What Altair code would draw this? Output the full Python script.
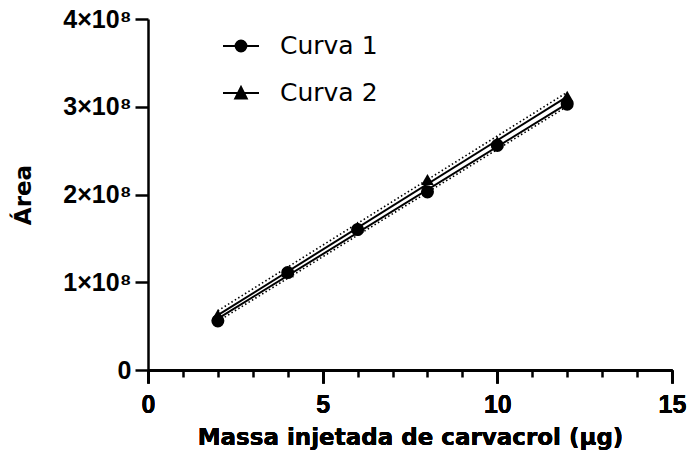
import altair as alt
import pandas as pd

# ---- data ----
mass = [2, 4, 6, 8, 10, 12]
area_c1 = [0.56e8, 1.11e8, 1.60e8, 2.03e8, 2.56e8, 3.03e8]
area_c2 = [0.63e8, 1.12e8, 1.63e8, 2.17e8, 2.60e8, 3.12e8]
series = ["Curva 1", "Curva 2"]

fit_x = [2, 12]
fit_c1 = [0.585e8, 3.035e8]
fit_c2 = [0.625e8, 3.115e8]
dot_upper = [0.675e8, 3.165e8]
dot_lower = [0.555e8, 3.005e8]

x_major = [0, 5, 10, 15]
x_minor = [1, 2, 3, 4, 6, 7, 8, 9, 11, 12, 13, 14]
y_ticks = [0, 1e8, 2e8, 3e8, 4e8]

# ---- tables ----
pts = pd.DataFrame({
    "mass": mass + mass,
    "area": area_c1 + area_c2,
    "series": [series[0]] * len(mass) + [series[1]] * len(mass),
})
fits = pd.DataFrame({
    "mass": fit_x * 4,
    "area": fit_c1 + fit_c2 + dot_upper + dot_lower,
    "kind": ["fit1"] * 2 + ["fit2"] * 2 + ["up"] * 2 + ["low"] * 2,
})

BOLD = "Liberation Sans"
xscale = alt.Scale(domain=[0, 15], nice=False, zero=True)
yscale = alt.Scale(domain=[0, 4e8], nice=False)

xaxis = alt.Axis(
    values=x_major, orient="bottom", format="d",
    tickSize=13, labelFlush=False,
    title="Massa injetada de carvacrol (µg)",
    labelFont=BOLD, labelFontSize=25, labelFontWeight="bold", labelPadding=9,
    titleFont="DejaVu Sans", titleFontSize=23, titleFontWeight="bold", titlePadding=9,
    grid=False,
)
xaxis_minor = alt.Axis(
    values=x_minor, orient="bottom", tickSize=7, labels=False, domain=False,
    title=None, grid=False,
)
yaxis = alt.Axis(
    values=y_ticks,
    labelExpr="datum.value == 0 ? '0' : format(datum.value / 1e8, 'd') + '×10⁸'",
    tickSize=13,
    title="Área",
    labelFont=BOLD, labelFontSize=25, labelFontWeight="bold", labelPadding=4,
    titleFont="DejaVu Sans", titleFontSize=23, titleFontWeight="bold", titlePadding=27,
    grid=False,
)

X = alt.X("mass:Q", scale=xscale, axis=xaxis)
Y = alt.Y("area:Q", scale=yscale, axis=yaxis)
Xm = alt.X("mass:Q", scale=xscale, axis=xaxis_minor)

solid = alt.Chart(fits).transform_filter(
    "datum.kind == 'fit1' || datum.kind == 'fit2'"
).mark_line(color="black", strokeWidth=2).encode(x=X, y=Y, detail="kind:N")

dotted = alt.Chart(fits).transform_filter(
    "datum.kind == 'up' || datum.kind == 'low'"
).mark_line(color="black", strokeWidth=1.6, strokeDash=[1.5, 2.5]).encode(
    x=Xm, y=Y, detail="kind:N")

circ = alt.Chart(pts).transform_filter(f"datum.series == '{series[0]}'").mark_point(
    shape="circle", filled=True, color="black", size=170, opacity=1
).encode(x=X, y=Y)

tri = alt.Chart(pts).transform_filter(f"datum.series == '{series[1]}'").mark_point(
    shape="triangle-up", filled=True, color="black", size=160, opacity=1
).encode(x=X, y=Y)


# legend glyphs: a line through a marker; the marker is drawn as nested
# outlines so that it reads as solid with a stroked-only legend symbol
def circle_glyph(r_max, steps):
    parts = ["M-1,0L1,0"]
    for i in range(steps):
        r = r_max * (steps - i) / steps
        parts.append(f"M{-r:.3f},0A{r:.3f},{r:.3f},0,1,0,{r:.3f},0A{r:.3f},{r:.3f},0,1,0,{-r:.3f},0Z")
    return "".join(parts)


def tri_glyph(h, w, steps):
    cy = 0.07
    parts = ["M-1,0L1,0"]
    for i in range(steps):
        s = (steps - i) / steps
        top = cy + (-h + 0.08 - cy) * s
        bot = cy + (0.30 - cy) * s
        parts.append(f"M0,{top:.3f}L{w * s:.3f},{bot:.3f}L{-w * s:.3f},{bot:.3f}Z")
    return "".join(parts)


circle_path = circle_glyph(0.30, 6)
tri_path = tri_glyph(0.42, 0.32, 6)

legend_layer = alt.Chart(pts).mark_point(
    filled=False, color="black", opacity=0, strokeWidth=2
).encode(
    x=X, y=Y,
    shape=alt.Shape(
        "series:N",
        scale=alt.Scale(domain=series, range=[circle_path, tri_path]),
        legend=alt.Legend(
            title=None, orient="none", legendX=74, legendY=8,
            symbolSize=1296, symbolOpacity=1,
            symbolFillColor="black", symbolStrokeColor="black", symbolStrokeWidth=2,
            labelFont="DejaVu Sans", labelFontSize=25, labelColor="black",
            labelOffset=20, rowPadding=15,
        ),
    ),
)

chart = alt.layer(dotted, solid, circ, tri, legend_layer).resolve_axis(
    x="independent"
).properties(
    width=524, height=351,
    autosize=alt.AutoSizeParams(type="none"),
    padding={"left": 148, "top": 19, "right": 16, "bottom": 91},
).configure_view(stroke=None).configure_axis(
    domainColor="black", domainWidth=2.5, tickColor="black", tickWidth=2.5,
    labelColor="black", titleColor="black",
)

chart.save("out.html", embed_options={"renderer": "svg", "actions": False})
